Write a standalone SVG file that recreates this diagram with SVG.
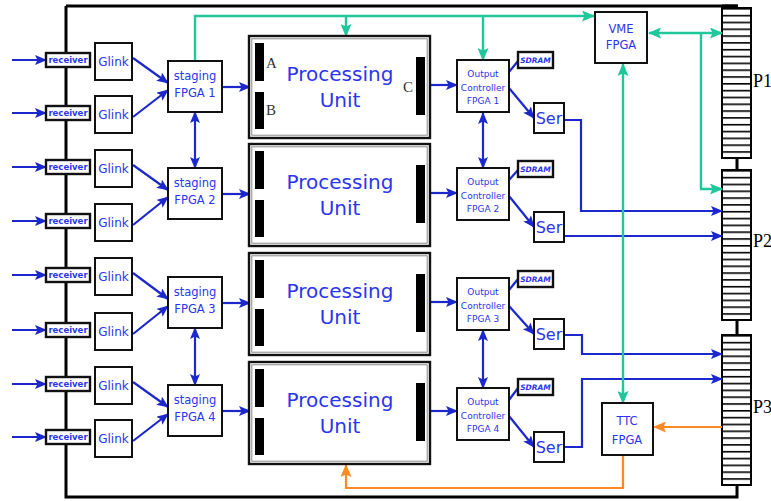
<svg xmlns="http://www.w3.org/2000/svg" xmlns:xlink="http://www.w3.org/1999/xlink" width="771" height="501" viewBox="0 0 771 501">
<style>
.box{fill:#fff;stroke:#111;stroke-width:2}
.pbox{fill:#fff;stroke:#111;stroke-width:2.4}
.inner{fill:none;stroke:#8a8a8a;stroke-width:1}
.rbox{fill:#fff;stroke:#111;stroke-width:2.4}
.t{font-family:"DejaVu Sans",sans-serif;fill:#2b35f0;text-anchor:middle}
.rec{font-size:8.5px;font-weight:bold}
.gl{font-size:12px}
.st{font-size:11.5px}
.oc{font-size:9px}
.sd{font-size:7.5px;font-weight:bold;font-style:italic}
.ser{font-size:16px}
.pu{font-size:20px}
.bar{fill:#000}
.serif{font-family:"Liberation Serif","Times New Roman",serif}
.blue{fill:none;stroke:#1c28cc;stroke-width:2.2}
.teal{fill:none;stroke:#1fc79b;stroke-width:2.4}
.orange{fill:none;stroke:#ff8a24;stroke-width:2.2}
.edge{fill:none;stroke:#000;stroke-width:3}
</style>
<defs>
  <marker id="ab" viewBox="0 0 12 10" refX="11" refY="5" markerWidth="12" markerHeight="10" markerUnits="userSpaceOnUse" orient="auto-start-reverse">
    <path d="M0,0L12,5L0,10L2.5,5z" fill="#1c28cc"/>
  </marker>
  <marker id="at" viewBox="0 0 13 11" refX="12" refY="5.5" markerWidth="13" markerHeight="11" markerUnits="userSpaceOnUse" orient="auto-start-reverse">
    <path d="M0,0L13,5.5L0,11L2.5,5.5z" fill="#1fc79b"/>
  </marker>
  <marker id="ao" viewBox="0 0 13 11" refX="12" refY="5.5" markerWidth="13" markerHeight="11" markerUnits="userSpaceOnUse" orient="auto-start-reverse">
    <path d="M0,0L13,5.5L0,11L2.5,5.5z" fill="#ff8a24"/>
  </marker>
  <!-- connector slots: 22 per backplane connector -->
  <pattern id="slots" width="29" height="6.818" patternUnits="userSpaceOnUse">
    <rect width="29" height="6.818" fill="#fff"/>
    <rect width="29" height="1.6" fill="#000"/>
  </pattern>
  <rect id="conn" x="0" y="0" width="29" height="150" fill="url(#slots)" stroke="#000" stroke-width="2"/>
</defs>

<rect width="771" height="501" fill="#fff"/>

<!-- board outline -->
<g id="board">
  <path class="edge" d="M66,6H738M66,6V497H737V484M737,158V170M737,320V335"/>
  <rect x="722" y="4.5" width="16" height="3" fill="#000"/>
</g>

<!-- backplane connectors -->
<g id="P1"><use xlink:href="#conn" x="722" y="8"/><text class="serif" x="753" y="87" font-size="18">P1</text></g>
<g id="P2"><use xlink:href="#conn" x="722" y="170"/><text class="serif" x="753" y="247" font-size="18">P2</text></g>
<g id="P3"><use xlink:href="#conn" x="722" y="335"/><text class="serif" x="753" y="413" font-size="18">P3</text></g>

<g id="connectors">
  <!-- inputs to receivers -->
  <g class="blue" marker-end="url(#ab)">
    <path d="M12,60H46"/><path d="M12,113H46"/><path d="M12,167H46"/><path d="M12,221H46"/>
    <path d="M12,275H46"/><path d="M12,330H46"/><path d="M12,384H46"/><path d="M12,437H46"/>
  </g>
  <!-- Glink to staging -->
  <g class="blue" marker-end="url(#ab)">
    <path d="M133,58L168,83"/><path d="M133,117L168,90"/>
    <path d="M133,165L168,190"/><path d="M133,225L168,197"/>
    <path d="M133,273L168,299"/><path d="M133,334L168,306"/>
    <path d="M133,382L168,407"/><path d="M133,441L168,414"/>
  </g>
  <!-- staging to processing unit, processing unit to output controller -->
  <g class="blue" marker-end="url(#ab)">
    <path d="M222,87H250"/><path d="M222,194H250"/><path d="M222,303H250"/><path d="M222,411H250"/>
    <path d="M430,85H457"/><path d="M430,193H457"/><path d="M430,302H457"/><path d="M430,411H457"/>
  </g>
  <!-- vertical links between neighbours -->
  <g class="blue" marker-start="url(#ab)" marker-end="url(#ab)">
    <path d="M195,112V168"/><path d="M195,328V385"/>
    <path d="M483,113V168"/><path d="M483,330V388"/>
  </g>
  <!-- output controller to SDRAM -->
  <g class="blue">
    <path d="M509,72L518,61"/><path d="M509,180L518,170"/><path d="M509,290L518,279"/><path d="M509,400L518,388"/>
  </g>
  <!-- output controller to serializer -->
  <g class="blue" marker-end="url(#ab)">
    <path d="M509,88L534,118"/><path d="M509,196L534,227"/><path d="M509,306L534,334"/><path d="M509,416L534,447"/>
  </g>
  <!-- serializers to backplane -->
  <g class="blue" marker-end="url(#ab)">
    <path d="M564,120H581V211H722"/>
    <path d="M564,236H722"/>
    <path d="M564,335H582V354H722"/>
    <path d="M564,447H582V379H722"/>
  </g>
  <!-- VME bus -->
  <g class="teal" marker-end="url(#at)">
    <path d="M195,60V16H594"/>
    <path d="M346,16V36"/>
    <path d="M483,16V60"/>
    <path d="M701,33V189H722"/>
  </g>
  <path class="teal" d="M649,33H722" marker-start="url(#at)" marker-end="url(#at)"/>
  <path class="teal" d="M623,64V403" marker-start="url(#at)" marker-end="url(#at)"/>
  <!-- TTC -->
  <g class="orange" marker-end="url(#ao)">
    <path d="M722,427H654"/>
    <path d="M623,455V488H346V465"/>
  </g>
</g>

<!-- receivers -->
<g id="receiver1"><rect class="rbox" x="46" y="53" width="44" height="14"/><text class="t rec" x="68" y="63">receiver</text></g>
<g id="receiver2"><rect class="rbox" x="46" y="106" width="44" height="14"/><text class="t rec" x="68" y="116">receiver</text></g>
<g id="receiver3"><rect class="rbox" x="46" y="160" width="44" height="14"/><text class="t rec" x="68" y="170">receiver</text></g>
<g id="receiver4"><rect class="rbox" x="46" y="214" width="44" height="14"/><text class="t rec" x="68" y="224">receiver</text></g>
<g id="receiver5"><rect class="rbox" x="46" y="268" width="44" height="14"/><text class="t rec" x="68" y="278">receiver</text></g>
<g id="receiver6"><rect class="rbox" x="46" y="323" width="44" height="14"/><text class="t rec" x="68" y="333">receiver</text></g>
<g id="receiver7"><rect class="rbox" x="46" y="377" width="44" height="14"/><text class="t rec" x="68" y="387">receiver</text></g>
<g id="receiver8"><rect class="rbox" x="46" y="430" width="44" height="14"/><text class="t rec" x="68" y="440">receiver</text></g>

<!-- Glinks -->
<g id="glink1"><rect class="box" x="95" y="43" width="37" height="37"/><text class="t gl" x="113.5" y="66">Glink</text></g>
<g id="glink2"><rect class="box" x="95" y="96" width="37" height="37"/><text class="t gl" x="113.5" y="119">Glink</text></g>
<g id="glink3"><rect class="box" x="95" y="150" width="37" height="37"/><text class="t gl" x="113.5" y="173">Glink</text></g>
<g id="glink4"><rect class="box" x="95" y="204" width="37" height="37"/><text class="t gl" x="113.5" y="227">Glink</text></g>
<g id="glink5"><rect class="box" x="95" y="258" width="37" height="37"/><text class="t gl" x="113.5" y="281">Glink</text></g>
<g id="glink6"><rect class="box" x="95" y="313" width="37" height="37"/><text class="t gl" x="113.5" y="336">Glink</text></g>
<g id="glink7"><rect class="box" x="95" y="367" width="37" height="37"/><text class="t gl" x="113.5" y="390">Glink</text></g>
<g id="glink8"><rect class="box" x="95" y="420" width="37" height="37"/><text class="t gl" x="113.5" y="443">Glink</text></g>

<!-- staging FPGAs -->
<g id="staging1"><rect class="box" x="168" y="61" width="54" height="51"/><text class="t st" x="195" y="80">staging</text><text class="t st" x="195" y="97">FPGA 1</text></g>
<g id="staging2"><rect class="box" x="168" y="168" width="54" height="51"/><text class="t st" x="195" y="187">staging</text><text class="t st" x="195" y="204">FPGA 2</text></g>
<g id="staging3"><rect class="box" x="168" y="277" width="54" height="51"/><text class="t st" x="195" y="296">staging</text><text class="t st" x="195" y="313">FPGA 3</text></g>
<g id="staging4"><rect class="box" x="168" y="385" width="54" height="51"/><text class="t st" x="195" y="404">staging</text><text class="t st" x="195" y="421">FPGA 4</text></g>

<!-- processing units -->
<g id="pu1">
  <rect class="pbox" x="249" y="36" width="181" height="102"/><rect class="inner" x="251.8" y="38.8" width="175.4" height="96.4"/>
  <rect class="bar" x="255" y="43" width="9" height="38"/><rect class="bar" x="255" y="92" width="9" height="37"/><rect class="bar" x="416" y="57" width="9" height="58"/>
  <text class="serif" x="266" y="68" font-size="15" fill="#333">A</text>
  <text class="serif" x="266" y="115" font-size="15" fill="#333">B</text>
  <text class="serif" x="403" y="92" font-size="15" fill="#333">C</text>
  <text class="t pu" x="340" y="81">Processing</text><text class="t pu" x="340" y="107">Unit</text>
</g>
<g id="pu2">
  <rect class="pbox" x="249" y="144" width="181" height="102"/><rect class="inner" x="251.8" y="146.8" width="175.4" height="96.4"/>
  <rect class="bar" x="255" y="151" width="9" height="38"/><rect class="bar" x="255" y="200" width="9" height="37"/><rect class="bar" x="416" y="165" width="9" height="58"/>
  <text class="t pu" x="340" y="189">Processing</text><text class="t pu" x="340" y="215">Unit</text>
</g>
<g id="pu3">
  <rect class="pbox" x="249" y="253" width="181" height="102"/><rect class="inner" x="251.8" y="255.8" width="175.4" height="96.4"/>
  <rect class="bar" x="255" y="260" width="9" height="38"/><rect class="bar" x="255" y="309" width="9" height="37"/><rect class="bar" x="416" y="274" width="9" height="58"/>
  <text class="t pu" x="340" y="298">Processing</text><text class="t pu" x="340" y="324">Unit</text>
</g>
<g id="pu4">
  <rect class="pbox" x="249" y="362" width="181" height="102"/><rect class="inner" x="251.8" y="364.8" width="175.4" height="96.4"/>
  <rect class="bar" x="255" y="369" width="9" height="38"/><rect class="bar" x="255" y="418" width="9" height="37"/><rect class="bar" x="416" y="383" width="9" height="58"/>
  <text class="t pu" x="340" y="407">Processing</text><text class="t pu" x="340" y="433">Unit</text>
</g>

<!-- output controllers -->
<g id="oc1"><rect class="box" x="457" y="60" width="52" height="52"/><text class="t oc" x="483" y="77">Output</text><text class="t oc" x="483" y="91">Controller</text><text class="t oc" x="483" y="104">FPGA 1</text></g>
<g id="oc2"><rect class="box" x="457" y="168" width="52" height="52"/><text class="t oc" x="483" y="185">Output</text><text class="t oc" x="483" y="199">Controller</text><text class="t oc" x="483" y="212">FPGA 2</text></g>
<g id="oc3"><rect class="box" x="457" y="278" width="52" height="52"/><text class="t oc" x="483" y="295">Output</text><text class="t oc" x="483" y="309">Controller</text><text class="t oc" x="483" y="322">FPGA 3</text></g>
<g id="oc4"><rect class="box" x="457" y="388" width="52" height="52"/><text class="t oc" x="483" y="405">Output</text><text class="t oc" x="483" y="419">Controller</text><text class="t oc" x="483" y="432">FPGA 4</text></g>

<!-- SDRAMs -->
<g id="sdram1"><rect class="rbox" x="518" y="52" width="35" height="16"/><text class="t sd" x="535.5" y="63">SDRAM</text></g>
<g id="sdram2"><rect class="rbox" x="518" y="161" width="35" height="16"/><text class="t sd" x="535.5" y="172">SDRAM</text></g>
<g id="sdram3"><rect class="rbox" x="518" y="271" width="35" height="16"/><text class="t sd" x="535.5" y="282">SDRAM</text></g>
<g id="sdram4"><rect class="rbox" x="518" y="379" width="35" height="16"/><text class="t sd" x="535.5" y="390">SDRAM</text></g>

<!-- serializers -->
<g id="ser1"><rect class="box" x="534" y="103" width="30" height="30"/><text class="t ser" x="549" y="124">Ser</text></g>
<g id="ser2"><rect class="box" x="534" y="212" width="30" height="30"/><text class="t ser" x="549" y="233">Ser</text></g>
<g id="ser3"><rect class="box" x="534" y="319" width="30" height="30"/><text class="t ser" x="549" y="340">Ser</text></g>
<g id="ser4"><rect class="box" x="534" y="432" width="30" height="30"/><text class="t ser" x="549" y="453">Ser</text></g>

<!-- VME and TTC FPGAs -->
<g id="vme"><rect class="box" x="595" y="12" width="52" height="51"/><text class="t st" x="621" y="33">VME</text><text class="t st" x="621" y="49">FPGA</text></g>
<g id="ttc"><rect class="box" x="602" y="403" width="51" height="52"/><text class="t st" x="627" y="425">TTC</text><text class="t st" x="627" y="444">FPGA</text></g>
</svg>
